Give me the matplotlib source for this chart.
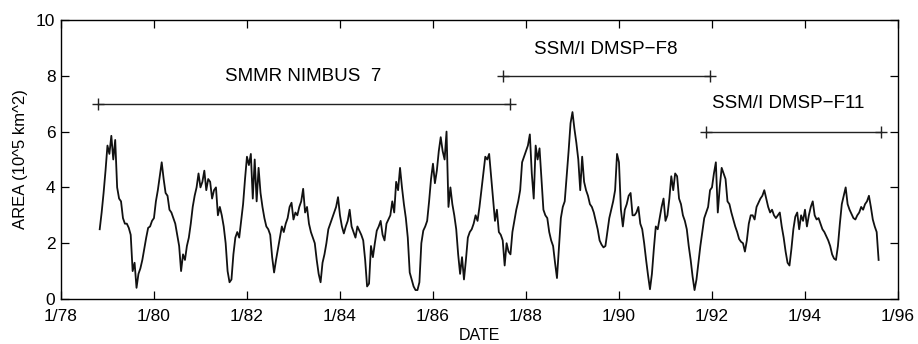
import numpy as np
import matplotlib
matplotlib.use("Agg")
import matplotlib.pyplot as plt

plt.rcParams['font.family'] = ['Liberation Sans', 'DejaVu Sans']

# half-monthly samples, first one at Nov 1978
start_year = 1978 + 20 / 24
area = [
    2.5, 3.1, 3.8, 4.6,  # 1978 (Nov-Dec)
    5.5, 5.2, 5.85, 5.0, 5.7, 4.0, 3.6, 3.5, 2.9, 2.7, 2.7, 2.55,
    2.3, 1.0, 1.3, 0.4, 0.9, 1.1, 1.4, 1.8, 2.2, 2.55, 2.6, 2.8,  # 1979
    2.9, 3.5, 3.9, 4.4, 4.9, 4.3, 3.8, 3.7, 3.2, 3.1, 2.9, 2.7,
    2.3, 1.9, 1.0, 1.6, 1.4, 1.9, 2.2, 2.7, 3.3, 3.7, 4.0, 4.5,  # 1980
    4.0, 4.2, 4.6, 3.9, 4.3, 4.2, 3.6, 3.9, 4.0, 3.0, 3.3, 3.0,
    2.6, 2.0, 1.0, 0.6, 0.7, 1.6, 2.2, 2.4, 2.2, 2.8, 3.4, 4.3,  # 1981
    5.1, 4.8, 5.2, 3.6, 5.0, 3.5, 4.7, 3.8, 3.3, 2.9, 2.6, 2.5,
    2.3, 1.5, 0.95, 1.4, 1.8, 2.2, 2.6, 2.4, 2.7, 2.9, 3.3, 3.45,  # 1982
    2.85, 3.1, 3.0, 3.3, 3.5, 3.95, 3.1, 3.3, 2.7, 2.4, 2.2, 2.0,
    1.4, 0.9, 0.6, 1.3, 1.6, 2.0, 2.5, 2.7, 2.9, 3.1, 3.3, 3.65,  # 1983
    3.0, 2.6, 2.35, 2.6, 2.8, 3.2, 2.6, 2.4, 2.2, 2.6, 2.45, 2.3,
    2.1, 1.4, 0.45, 0.55, 1.9, 1.5, 2.0, 2.45, 2.6, 2.8, 2.3, 2.1,  # 1984
    2.7, 2.85, 3.0, 3.5, 3.1, 4.2, 3.9, 4.7, 4.0, 3.4, 2.9, 2.2,
    0.95, 0.7, 0.45, 0.32, 0.32, 0.6, 2.0, 2.45, 2.6, 2.8, 3.5, 4.3,  # 1985
    4.85, 4.15, 4.6, 5.3, 5.8, 5.3, 5.0, 6.0, 3.3, 4.0, 3.4, 3.0,
    2.5, 1.6, 0.9, 1.5, 0.7, 1.4, 2.2, 2.4, 2.5, 2.7, 3.0, 2.8,  # 1986
    3.3, 3.9, 4.5, 5.1, 5.0, 5.2, 4.4, 3.6, 2.8, 3.2, 2.4, 2.3,
    2.1, 1.2, 2.0, 1.7, 1.6, 2.4, 2.8, 3.2, 3.5, 3.9, 4.9, 5.1,  # 1987
    5.3, 5.5, 5.9, 4.5, 3.6, 5.5, 5.0, 5.4, 4.3, 3.2, 3.0, 2.9,
    2.4, 2.1, 1.9, 1.3, 0.75, 1.8, 2.9, 3.3, 3.5, 4.4, 5.3, 6.3,  # 1988
    6.7, 6.1, 5.6, 5.0, 3.9, 5.1, 4.2, 3.9, 3.7, 3.4, 3.3, 3.1,
    2.8, 2.5, 2.1, 1.95, 1.85, 1.9, 2.4, 2.9, 3.2, 3.5, 3.9, 5.2,  # 1989
    4.9, 3.2, 2.6, 3.2, 3.4, 3.7, 3.8, 3.0, 3.0, 3.1, 3.3, 2.7,
    2.5, 2.0, 1.4, 0.85, 0.35, 0.9, 1.8, 2.6, 2.5, 2.9, 3.3, 3.6,  # 1990
    2.8, 3.0, 3.6, 4.4, 3.9, 4.5, 4.4, 3.6, 3.4, 3.0, 2.8, 2.5,
    1.9, 1.4, 0.8, 0.32, 0.7, 1.3, 1.9, 2.4, 2.9, 3.1, 3.3, 3.9,  # 1991
    4.0, 4.5, 4.9, 3.1, 4.0, 4.7, 4.5, 4.3, 3.5, 3.4, 3.1, 2.85,
    2.6, 2.4, 2.15, 2.05, 2.0, 1.7, 2.1, 2.7, 3.0, 3.0, 2.85, 3.3,  # 1992
    3.45, 3.6, 3.7, 3.9, 3.6, 3.3, 3.1, 3.2, 3.0, 2.9, 3.0, 3.1,
    2.6, 2.2, 1.7, 1.3, 1.2, 1.8, 2.5, 2.95, 3.1, 2.5, 3.0, 2.8,  # 1993
    3.2, 2.6, 3.0, 3.3, 3.5, 3.0, 2.85, 2.9, 2.7, 2.5, 2.4, 2.25,
    2.1, 1.9, 1.6, 1.45, 1.4, 1.9, 2.7, 3.4, 3.7, 4.0, 3.4, 3.2,  # 1994
    3.05, 2.9, 2.85, 3.0, 3.1, 3.3, 3.2, 3.4, 3.5, 3.7, 3.3, 2.85,
    2.6, 2.4, 1.4,  # 1995 (to Aug)
]
dates = start_year + np.arange(len(area)) / 24

# sensor coverage bars
sensor_names = ['SMMR NIMBUS  7', 'SSM/I DMSP\u2212F8', 'SSM/I DMSP\u2212F11']
sensor_start = [1978.80, 1987.51, 1991.88]
sensor_end = [1987.66, 1991.95, 1995.63]
sensor_level = [7, 8, 6]
label_pos = [(1983.2, 7.97), (1989.72, 8.93), (1993.64, 7.0)]

year_ticks = list(range(1978, 1997, 2))
year_labels = ['1/%02d' % (y % 100) for y in year_ticks]

fig = plt.figure(figsize=(9.18, 3.44), dpi=100)
ax = fig.add_axes([0.0664, 0.1308, 0.9118, 0.8111])

ax.plot(dates, area, color='#111111', linewidth=1.3)

for name, x0, x1, lev, (tx, ty) in zip(sensor_names, sensor_start, sensor_end,
                                       sensor_level, label_pos):
    ax.plot([x0, x1], [lev, lev], color='#222222', linewidth=1.0)
    ax.plot([x0, x1], [lev, lev], linestyle='none', marker='+',
            markersize=8, markeredgewidth=1.0, color='#222222')
    ax.text(tx, ty, name, ha='center', va='center', fontsize=13.5)

ax.set_xlim(1978, 1996)
ax.set_ylim(0, 10)
ax.set_xticks(year_ticks)
ax.set_xticklabels(year_labels)
ax.set_yticks(range(0, 11, 2))
ax.tick_params(direction='in', length=6, width=0.9, labelsize=12.5,
               top=True, right=True, pad=4)
ax.tick_params(axis='x', pad=7)
for s in ax.spines.values():
    s.set_linewidth(1.0)

ax.set_ylabel('AREA (10^5 km^2)', fontsize=12, labelpad=6)
ax.set_xlabel('DATE', fontsize=11.5, labelpad=3)

fig.savefig('out.png', dpi=100)
